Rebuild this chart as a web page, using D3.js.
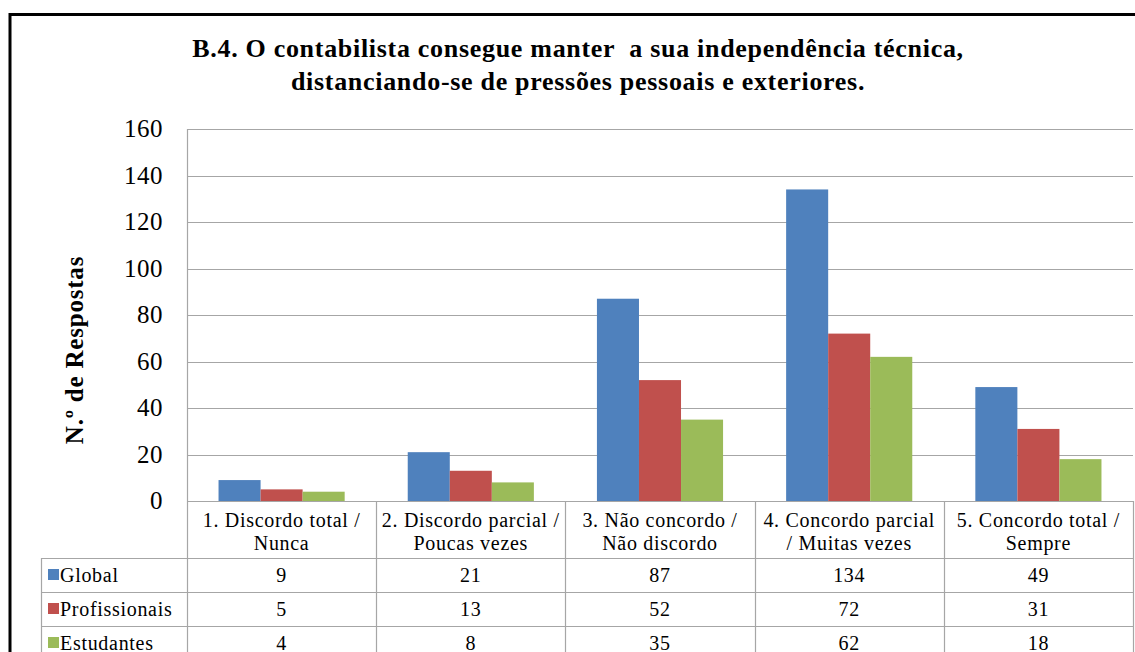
<!DOCTYPE html>
<html>
<head>
<meta charset="utf-8">
<script src="https://cdn.jsdelivr.net/npm/d3@7"></script>
<style>
body { margin: 0; background: #fff; }
svg { display: block; }
svg text { font-family: "Liberation Serif", "DejaVu Serif", serif; fill: #000; }
</style>
</head>
<body>
<svg id="chart" width="1135" height="652"></svg>
<script>
// data
var categories = [
    ['1. Discordo total /', 'Nunca'],
    ['2. Discordo parcial /', 'Poucas vezes'],
    ['3. Não concordo /', 'Não discordo'],
    ['4. Concordo parcial', '/ Muitas vezes'],
    ['5. Concordo total /', 'Sempre']
];
var seriesNames = ['Global', 'Profissionais', 'Estudantes'];
var globalVals = [9, 21, 87, 134, 49];
var profVals = [5, 13, 52, 72, 31];
var estVals = [4, 8, 35, 62, 18];
var yTicks = [0, 20, 40, 60, 80, 100, 120, 140, 160];
var colors = ['#4F81BD', '#C0504D', '#9BBB59'];
var titleLines = ['B.4. O contabilista consegue manter  a sua independência técnica,',
                  'distanciando-se de pressões pessoais e exteriores.'];

var series = [globalVals, profVals, estVals];

var svg = d3.select('#chart');
var plot = {left: 187, right: 1133, top: 129, bottom: 501};
var gridCol = '#a6a6a6';

// outer frame
svg.append('path')
    .attr('d', 'M10,660 V14.5 H1135')
    .attr('fill', 'none')
    .attr('stroke', '#000')
    .attr('stroke-width', 3);

// title
svg.selectAll('.title').data(titleLines).enter().append('text')
    .attr('class', 'title')
    .attr('x', 578)
    .attr('y', function(d, i) { return 57 + i * 33; })
    .attr('text-anchor', 'middle')
    .style('font-size', '26px')
    .style('font-weight', 'bold')
    .style('letter-spacing', '0.7px')
    .style('white-space', 'pre')
    .text(function(d) { return d; });

var x0 = d3.scaleBand()
    .domain(d3.range(categories.length))
    .range([plot.left, plot.right]);

var x1 = d3.scaleBand()
    .domain(d3.range(seriesNames.length))
    .range([0, x0.bandwidth()])
    .paddingOuter(0.75);

var y = d3.scaleLinear().domain([0, 160]).range([plot.bottom, plot.top]);

// gridlines
svg.append('g').selectAll('line').data(yTicks).enter().append('line')
    .attr('x1', plot.left).attr('x2', plot.right)
    .attr('y1', function(d) { return Math.round(y(d)) + 0.5; })
    .attr('y2', function(d) { return Math.round(y(d)) + 0.5; })
    .attr('stroke', gridCol)
    .attr('stroke-width', 1.2);

svg.append('line')
    .attr('x1', plot.left + 0.5).attr('x2', plot.left + 0.5)
    .attr('y1', plot.top).attr('y2', plot.bottom)
    .attr('stroke', gridCol).attr('stroke-width', 1.2);

// y tick labels
svg.append('g').selectAll('text').data(yTicks).enter().append('text')
    .attr('x', 163)
    .attr('y', function(d) { return y(d) + 8; })
    .attr('text-anchor', 'end')
    .style('font-size', '25px')
    .style('letter-spacing', '0.5px')
    .text(function(d) { return d; });

// y axis title
svg.append('text')
    .attr('transform', 'translate(83,350) rotate(-90)')
    .attr('text-anchor', 'middle')
    .style('font-size', '25px')
    .style('font-weight', 'bold')
    .style('letter-spacing', '0.8px')
    .text('N.º de Respostas');

// bars
series.forEach(function(vals, s) {
    svg.append('g').selectAll('rect').data(vals).enter().append('rect')
        .attr('x', function(d, i) { return x0(i) + x1(s); })
        .attr('width', x1.bandwidth())
        .attr('y', function(d) { return y(d); })
        .attr('height', function(d) { return y(0) - y(d); })
        .attr('fill', colors[s]);
});

// data table
var headerBottom = 558, rowH = 34, tableLeft = 41;
var rowTops = seriesNames.map(function(d, i) { return headerBottom + i * rowH; });
var table = svg.append('g')
    .style('font-size', '20px')
    .style('letter-spacing', '0.7px');

// horizontal lines
rowTops.forEach(function(t) {
    table.append('line')
        .attr('x1', tableLeft).attr('x2', plot.right)
        .attr('y1', t + 0.5).attr('y2', t + 0.5)
        .attr('stroke', gridCol).attr('stroke-width', 1.2);
});
// vertical lines
table.append('line')
    .attr('x1', tableLeft + 0.5).attr('x2', tableLeft + 0.5)
    .attr('y1', headerBottom).attr('y2', 660)
    .attr('stroke', gridCol).attr('stroke-width', 1.2);
d3.range(categories.length + 1).forEach(function(i) {
    var xx = i < categories.length ? x0(i) : plot.right;
    table.append('line')
        .attr('x1', Math.round(xx) + 0.5).attr('x2', Math.round(xx) + 0.5)
        .attr('y1', plot.bottom).attr('y2', 660)
        .attr('stroke', gridCol).attr('stroke-width', 1.2);
});

// category labels
categories.forEach(function(c, i) {
    table.append('text')
        .attr('x', x0(i) + x0.bandwidth() / 2)
        .attr('text-anchor', 'middle')
        .selectAll('tspan').data(c).enter().append('tspan')
        .attr('x', x0(i) + x0.bandwidth() / 2)
        .attr('y', function(d, j) { return 527 + j * 23; })
        .text(function(d) { return d; });
});

// legend keys and series names
seriesNames.forEach(function(name, s) {
    table.append('rect')
        .attr('x', 48).attr('y', rowTops[s] + 11)
        .attr('width', 11).attr('height', 11)
        .attr('fill', colors[s]);
    table.append('text')
        .attr('x', 60).attr('y', rowTops[s] + 24)
        .text(name);
    table.append('g').selectAll('text').data(series[s]).enter().append('text')
        .attr('x', function(d, i) { return x0(i) + x0.bandwidth() / 2; })
        .attr('y', rowTops[s] + 24)
        .attr('text-anchor', 'middle')
        .text(function(d) { return d; });
});
</script>
</body>
</html>
